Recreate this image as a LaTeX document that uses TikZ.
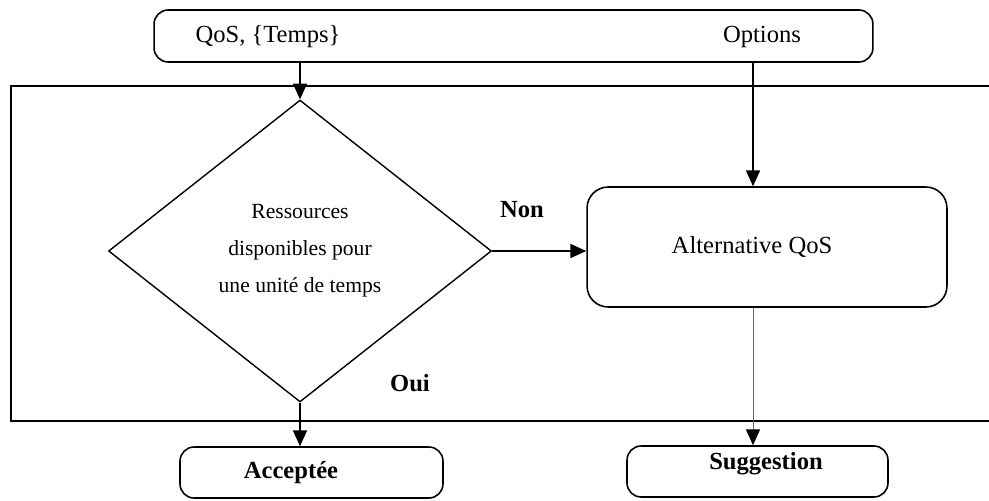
\documentclass[tikz,border=0pt]{standalone}
\usepackage{fontspec}
\setmainfont{Liberation Serif}
\usetikzlibrary{shapes.geometric}
\usetikzlibrary{arrows.meta}

\begin{document}
\begin{tikzpicture}[x=0.02cm, y=-0.02cm,
            frameline/.style={color=black, line width=0.9pt},
            flowarrow/.style={color=black, line width=0.8pt, -{Triangle[length=9pt, width=8pt]}},
            thinarrow/.style={color=black!60, line width=0.5pt, -{Triangle[length=9pt, width=8pt, color=black]}},
            roundbox/.style={draw, line width=0.9pt, rounded corners=8pt, inner sep=0pt},
            decision/.style={draw, diamond, line width=0.8pt, inner sep=0pt, align=center},
            plaintext/.style={font=\fontsize{14}{16}\selectfont},
            boldtext/.style={font=\fontsize{14}{16}\selectfont\bfseries}
        ]
            \useasboundingbox (0, 0) rectangle (989, 500);

            % frame (open on the right)
            \draw[frameline] (995, 86) -- (11, 86) -- (11, 421) -- (995, 421);

            % input box
            \node[roundbox, minimum width=14.38cm, minimum height=1.04cm] (inbox) at (513.5, 36) {};
            \node[plaintext] (qos) at (268, 37) {QoS, \{Temps\}};
            \node[plaintext] (opts) at (762, 37) {Options};

            % decision
            \node[decision, font=\fontsize{12.3}{21}\selectfont, minimum width=7.66cm, minimum height=6.04cm] (res) at (300, 251)
                {Ressources\\disponibles pour\\une unité de temps};

            % alternative
            \node[roundbox, minimum width=7.2cm, minimum height=2.4cm, rounded corners=12pt] (alt) at (767, 247) {};
            \node[plaintext] (alttxt) at (752, 247) {Alternative QoS};

            % outputs
            \node[roundbox, minimum width=5.26cm, minimum height=1.02cm] (acc) at (311.5, 472.5) {};
            \node[boldtext] (acctxt) at (291, 473) {Acceptée};
            \node[roundbox, minimum width=5.22cm, minimum height=1.02cm] (sug) at (757.5, 471.5) {};
            \node[boldtext] (sugtxt) at (766, 464) {Suggestion};

            % arrows
            \draw[flowarrow] (inbox.south -| res.north) -- (res.north);
            \draw[flowarrow] (inbox.south -| 753, 0) -- (alt.north -| 753, 0);
            \draw[flowarrow] (res.east) -- (alt.west |- res.east);
            \draw[flowarrow] (res.south) -- (acc.north -| res.south);
            \draw[thinarrow] (alt.south -| 753, 0) -- (sug.north -| 753, 0);

            % labels
            \node[boldtext] (non) at (522, 210) {Non};
            \node[boldtext] (oui) at (410, 383) {Oui};

        \end{tikzpicture}
\end{document}
